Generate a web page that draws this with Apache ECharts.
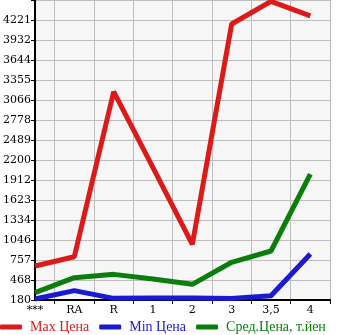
<!DOCTYPE html>
<html><head><meta charset="utf-8">
<script src="https://cdn.jsdelivr.net/npm/echarts@6/dist/echarts.min.js"></script>
<style>html,body{margin:0;padding:0;background:#fff}#c{width:345px;height:335px}</style>
</head><body><div id="c"></div>
<script>
var categories = ['***', 'RA', 'R', '1', '2', '3', '3,5', '4'];
var maxPrice = [670, 805, 3186, 2090, 983, 4163, 4490, 4280];
var minPrice = [195, 315, 204, 210, 210, 200, 242, 844];
var avgPrice = [286, 502, 550, 483, 406, 724, 887, 1998];
var yTickLabels = ['180', '468', '757', '1046', '1334', '1623', '1912', '2200', '2489', '2778', '3066', '3355', '3644', '3932', '4221'];
var seriesNames = ['Max Цена', 'Min Цена', 'Сред.Цена, т.йен'];
var colors = ['#dc1a1a', '#1a1ad2', '#0a7d0a'];

var yMin = 180, yStep = 288.64, yMax = yMin + yStep * 15;
function pts(arr){ return arr.map(function(v,i){ return [i, v]; }); }
var font = 'DejaVu Serif';
var chart = echarts.init(document.getElementById('c'), null, {renderer:'canvas'});
chart.setOption({
  animation:false,
  color: colors,
  grid:{left:30, right:15, top:0, bottom:35, containLabel:false, show:true, backgroundColor:'#f6f6f6', borderWidth:0},
  legend:{
    left:0, top:320, width:345, padding:0, itemWidth:22, itemHeight:5, itemGap:10, icon:'roundRect',
    data: seriesNames.map(function(n,i){ return {name:n, textStyle:{color:colors[i]}}; }),
    textStyle:{fontFamily:'Liberation Serif', fontSize:14, padding:[0,0,0,3]}
  },
  xAxis:{
    type:'value', min:0, max:7.5, interval:0.5,
    axisLine:{show:true, lineStyle:{color:'#000', width:2}},
    axisTick:{show:true, customValues:[0.5,1.5,2.5,3.5,4.5,5.5,6.5,7.5], length:4, lineStyle:{color:'#000'}},
    axisLabel:{customValues:[0,1,2,3,4,5,6,7], formatter:function(v){ return categories[Math.round(v)] || ''; }, color:'#000', fontFamily:font, fontSize:11, margin:5},
    splitLine:{show:true, lineStyle:{color:'#bdbdbd', width:1}}
  },
  yAxis:{
    type:'value', min:yMin, max:yMax, interval:yStep,
    axisLine:{show:true, lineStyle:{color:'#000', width:2}},
    axisTick:{show:true, length:4, lineStyle:{color:'#000'}},
    axisLabel:{formatter:function(v){ var k=Math.round((v-yMin)/yStep); return yTickLabels[k]||''; }, color:'#000', fontFamily:font, fontSize:11, margin:4},
    splitLine:{show:true, lineStyle:{color:'#bdbdbd', width:1}}
  },
  series:[
    {name:seriesNames[0], type:'line', data:pts(maxPrice), showSymbol:false, lineStyle:{width:5}},
    {name:seriesNames[1], type:'line', data:pts(minPrice), showSymbol:false, lineStyle:{width:5}},
    {name:seriesNames[2], type:'line', data:pts(avgPrice), showSymbol:false, lineStyle:{width:5}}
  ]
});
</script></body></html>
